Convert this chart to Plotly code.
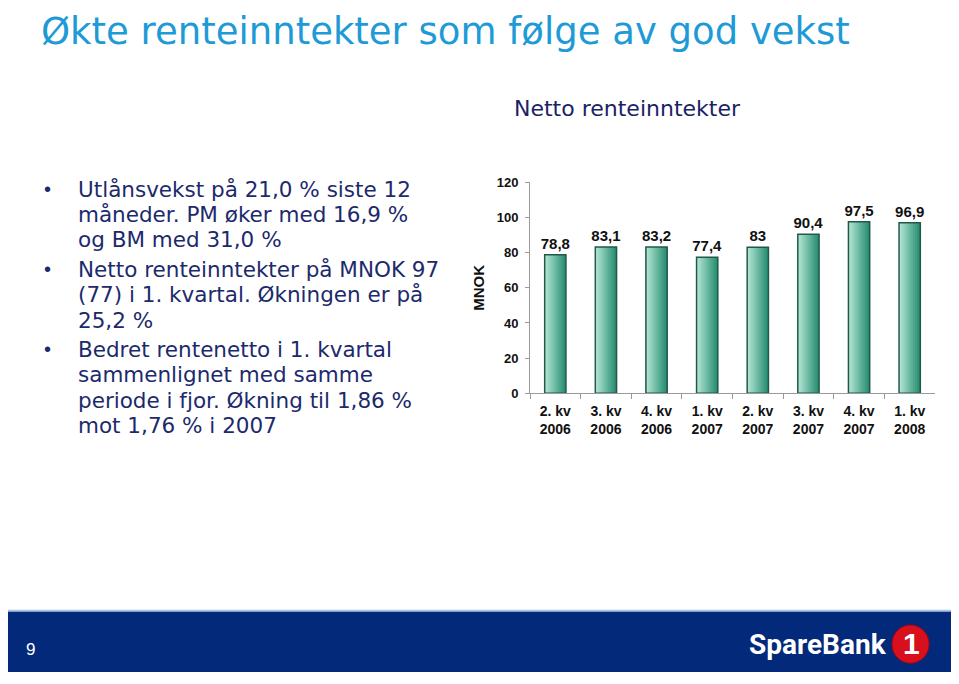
import plotly.graph_objects as go

# The page body has an 8px margin: the figure's top-left corner sits at (8, 8)
OFF = 8
W, H = 955 - OFF, 680 - OFF

categories = ["2. kv<br>2006", "3. kv<br>2006", "4. kv<br>2006", "1. kv<br>2007",
              "2. kv<br>2007", "3. kv<br>2007", "4. kv<br>2007", "1. kv<br>2008"]
values = [78.8, 83.1, 83.2, 77.4, 83.0, 90.4, 97.5, 96.9]
value_labels = ["78,8", "83,1", "83,2", "77,4", "83", "90,4", "97,5", "96,9"]
y_ticks = [0, 20, 40, 60, 80, 100, 120]

title_text = "Økte renteinntekter som følge av god vekst"
chart_title = "Netto renteinntekter"
y_title = "MNOK"
bullets = [
    ["Utlånsvekst på 21,0 % siste 12", "måneder. PM øker med 16,9 %", "og BM med 31,0 %"],
    ["Netto renteinntekter på MNOK 97", "(77) i 1. kvartal. Økningen er på", "25,2 %"],
    ["Bedret rentenetto i 1. kvartal", "sammenlignet med samme", "periode i fjor. Økning til 1,86 %", "mot 1,76 % i 2007"],
]
page_number = "9"
logo_text = "SpareBank"


def px(x):
    return (x - OFF) / W


def py(y):
    return 1 - (y - OFF) / H


BAR_W = 0.42
N = 12
light = (176, 228, 210)
dark = (40, 142, 114)

fig = go.Figure()
for k in range(N):
    t = k / (N - 1)
    c = tuple(round(dark[i] + (light[i] - dark[i]) * t) for i in range(3))
    w = BAR_W * (N - k) / N
    fig.add_trace(go.Bar(
        x=categories, y=values, width=w, offset=-BAR_W / 2,
        marker=dict(color="rgb(%d,%d,%d)" % c, line=dict(width=0)),
        hoverinfo="skip", showlegend=False,
    ))
fig.add_trace(go.Bar(
    x=categories, y=values, width=BAR_W, offset=-BAR_W / 2,
    marker=dict(color="rgba(0,0,0,0)", line=dict(color="#23574a", width=1.5)),
    text=value_labels, textposition="outside", cliponaxis=False, constraintext="none",
    textfont=dict(family="Liberation Sans, Arial", size=15, color="#111111", weight="bold"),
    showlegend=False,
))

fig.update_layout(
    width=W, height=H, margin=dict(l=0, r=0, t=0, b=0),
    paper_bgcolor="white", plot_bgcolor="white",
    barmode="overlay",
    font=dict(family="Liberation Sans, Arial", color="#111111"),
    xaxis=dict(domain=[px(530), px(935)], showline=True, linecolor="#9a9a9a", linewidth=1,
               ticks="outside", ticklen=5, tickcolor="#9a9a9a", tickson="boundaries",
               ticklabelstandoff=5,
               tickfont=dict(size=14, weight="bold", color="#111111"), showgrid=False),
    yaxis=dict(domain=[py(395), py(179)], range=[0, 120], tickvals=y_ticks,
               showline=True, linecolor="#9a9a9a", linewidth=1,
               ticks="outside", ticklen=4, tickcolor="#9a9a9a", ticklabelstandoff=4,
               tickfont=dict(size=13, weight="bold", color="#111111"), showgrid=False,
               zeroline=False),
)

ann = []
ann.append(dict(text=title_text, x=px(39), y=py(0.5), xref="paper", yref="paper",
                xanchor="left", yanchor="top", showarrow=False,
                font=dict(family="DejaVu Sans", size=37, color="#1e9ad6")))
ann.append(dict(text=chart_title, x=px(512), y=py(104), xref="paper", yref="paper",
                xanchor="left", yanchor="middle", showarrow=False,
                font=dict(family="DejaVu Sans", size=22, color="#1a2266")))
ann.append(dict(text=y_title, x=px(479), y=py(287), xref="paper", yref="paper",
                xanchor="center", yanchor="middle", showarrow=False, textangle=-90,
                font=dict(family="Liberation Sans, Arial", size=15, color="#111111", weight="bold")))

line_y = 186
for bi, lines in enumerate(bullets):
    if bi > 0:
        line_y += 4
    ann.append(dict(text="•", x=px(47), y=py(line_y), xref="paper", yref="paper",
                    xanchor="center", yanchor="middle", showarrow=False,
                    font=dict(family="Liberation Sans, Arial", size=20, color="#1c2a6c")))
    for ln in lines:
        ann.append(dict(text=ln, x=px(76), y=py(line_y), xref="paper", yref="paper",
                        xanchor="left", yanchor="middle", showarrow=False,
                        font=dict(family="DejaVu Sans", size=21.5, color="#1c2a6c")))
        line_y += 26

# footer
shapes = [
    dict(type="rect", xref="paper", yref="paper", x0=0, x1=1, y0=0, y1=py(618),
         fillcolor="#03297a", line=dict(width=0), layer="above"),
    dict(type="line", xref="paper", yref="paper", x0=0, x1=1, y0=py(617), y1=py(617),
         line=dict(color="#a9c4e4", width=1.5)),
    dict(type="circle", xref="paper", yref="paper", x0=px(892), x1=px(929), y0=py(671), y1=py(632),
         fillcolor="#d8101e", line=dict(color="#b00010", width=1)),
]
ann.append(dict(text=page_number, x=px(30), y=py(657), xref="paper", yref="paper",
                xanchor="center", yanchor="middle", showarrow=False,
                font=dict(family="Liberation Sans, Arial", size=17, color="white")))
ann.append(dict(text=logo_text, x=px(747), y=py(652), xref="paper", yref="paper",
                xanchor="left", yanchor="middle", showarrow=False,
                font=dict(family="Liberation Sans Narrow, Roboto, Arial", size=28, color="white", weight="bold")))
ann.append(dict(text="1", x=px(911), y=py(651), xref="paper", yref="paper",
                xanchor="center", yanchor="middle", showarrow=False,
                font=dict(family="Liberation Sans, Arial", size=30, color="white", weight="bold")))

fig.update_layout(annotations=ann, shapes=shapes)
fig.write_html("out.html")
